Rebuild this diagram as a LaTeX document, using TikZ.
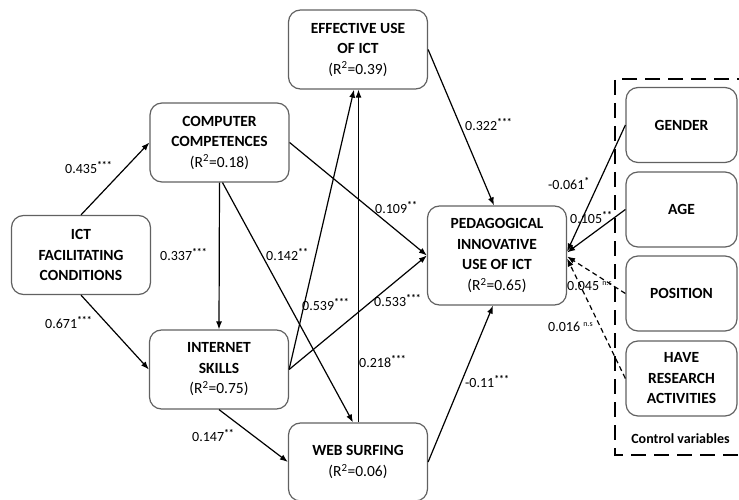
\documentclass[tikz,border=0pt]{standalone}
\usepackage{fontspec}
\setmainfont{Carlito}
\usetikzlibrary{arrows.meta}
\newcommand{\nsfont}{\fontsize{8}{9}\selectfont}
\newcommand{\stars}[1]{\textsuperscript{\textbf{#1}}}
\begin{document}
\begin{tikzpicture}[x=1pt,y=-1pt,
  var/.style={draw=black!62, line width=1.2pt, rounded corners=12pt, align=center,
    inner sep=0pt, font=\fontsize{15.5}{20.5}\selectfont, text=black},
  mainvar/.style={var, minimum width=139pt, minimum height=79pt},
  ctrlvar/.style={var, minimum width=111pt, minimum height=75pt},
  effect/.style={line width=1.2pt, -{Latex[length=8pt,width=6pt]}},
  nseffect/.style={effect, dash pattern=on 5pt off 3.5pt},
  coef/.style={anchor=base west, inner sep=0pt, font=\fontsize{14}{16}\selectfont}]

\useasboundingbox (0,0) rectangle (739,500);

% latent constructs
\node[mainvar] (eu) at (358,49.5) {\textbf{EFFECTIVE USE}\\\textbf{OF ICT}\\(R\textsuperscript{2}=0.39)};
\node[mainvar] (cc) at (219.5,142.5) {\textbf{COMPUTER}\\\textbf{COMPETENCES}\\(R\textsuperscript{2}=0.18)};
\node[mainvar] (ict) at (81,255) {\textbf{ICT}\\\textbf{FACILITATING}\\\textbf{CONDITIONS}};
\node[mainvar] (is) at (219,369.5) {\textbf{INTERNET}\\\textbf{SKILLS}\\(R\textsuperscript{2}=0.75)};
\node[mainvar, minimum height=78pt] (ws) at (358,462) {\textbf{WEB SURFING}\\(R\textsuperscript{2}=0.06)};
\node[mainvar, minimum height=99pt] (ped) at (497,255.5) {\textbf{PEDAGOGICAL}\\\textbf{INNOVATIVE}\\\textbf{USE OF ICT}\\(R\textsuperscript{2}=0.65)};

% control variables
\draw[line width=2.5pt, dash pattern=on 15pt off 8pt] (752,79) -- (615,79) -- (615,455) -- (752,455);
\node[ctrlvar] (gender) at (681.5,125) {\textbf{GENDER}};
\node[ctrlvar] (age) at (681.5,209.5) {\textbf{AGE}};
\node[ctrlvar] (position) at (681.5,293.5) {\textbf{POSITION}};
\node[ctrlvar] (research) at (681.5,378.5) {\textbf{HAVE}\\\textbf{RESEARCH}\\\textbf{ACTIVITIES}};
\node[inner sep=0pt, font=\bfseries\fontsize{14}{16}\selectfont] (ctrltitle) at (680.5,439) {Control variables};

% structural paths
\draw[effect] (ict.north) -- (cc.west);
\draw[effect] (ict.south) -- (is.west);
\draw[effect] (cc.south) -- (is.north);
\draw[effect] ([xshift=3pt]cc.south) -- ([xshift=-5pt]ws.north);
\draw[effect] (is.east) -- ([xshift=-4pt]eu.south);
\draw[effect] ([xshift=0.5pt]ws.north) -- ([xshift=0.5pt]eu.south);
\draw[effect] (is.east) -- (ped.west);
\draw[effect] (cc.east) -- (ped.west);
\draw[effect] (eu.east) -- ([xshift=-3pt]ped.north);
\draw[effect] (ws.east) -- ([xshift=-4pt]ped.south);
\draw[effect] (is.south) -- (ws.west);

% control paths
\draw[effect] (gender.west) -- ([yshift=4pt]ped.east);
\draw[effect] (age.west) -- ([yshift=3pt]ped.east);
\draw[nseffect] (position.west) -- ([yshift=-1pt]ped.east);
\draw[nseffect] (research.west) -- ([yshift=-3pt]ped.east);

% path coefficients
\node[coef] (c1) at (65,173.5) {0.435\stars{***}};
\node[coef] (c2) at (45,328.5) {0.671\stars{***}};
\node[coef] (c3) at (160,260.5) {0.337\stars{***}};
\node[coef] (c4) at (266,260.5) {0.142\stars{**}};
\node[coef] (c5) at (375,213.5) {0.109\stars{**}};
\node[coef] (c6) at (302,310.5) {0.539\stars{***}};
\node[coef] (c7) at (374,306.5) {0.533\stars{***}};
\node[coef] (c8) at (359,367.5) {0.218\stars{***}};
\node[coef] (c9) at (192,441.5) {0.147\stars{**}};
\node[coef] (c10) at (465,387.5) {-0.11\stars{***}};
\node[coef] (c11) at (465,130.5) {0.322\stars{***}};
\node[coef] (c12) at (548,189.5) {-0.061\stars{*}};
\node[coef] (c13) at (570,223.5) {0.105\stars{**}};
\node[coef] (c14) at (567,290.5) {0.045 \raisebox{5pt}{\nsfont n.s}};
\node[coef] (c15) at (548,331.5) {0.016 \raisebox{5pt}{\nsfont n.s}};
\end{tikzpicture}
\end{document}
